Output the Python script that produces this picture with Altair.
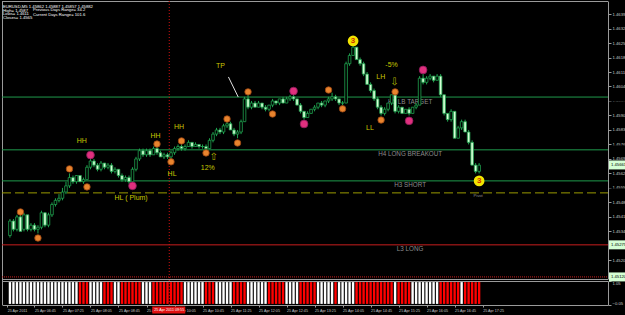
import json
import altair as alt
import pandas as pd

# ---------------- data (EURUSD M5, 25 Apr 2011) ----------------
OPEN = [1.4532,1.4539,1.4535,1.4541,1.4535,1.4542,1.4535,1.4537,1.4535,1.4536,
        1.4543,1.4537,1.4542,1.4547,1.4549,1.4550,1.4553,1.4556,1.4560,1.4558,
        1.4561,1.4558,1.4559,1.4565,1.4568,1.4566,1.4564,1.4567,1.4565,1.4566,
        1.4563,1.4564,1.4561,1.4559,1.4560,1.4558,1.4564,1.4569,1.4573,1.4571,
        1.4573,1.4571,1.4574,1.4572,1.4570,1.4571,1.4570,1.4572,1.4574,1.4575,
        1.4574,1.4575,1.4577,1.4575,1.4576,1.4575,1.4575,1.4574,1.4578,1.4581,
        1.4583,1.4582,1.4585,1.4586,1.4583,1.4581,1.4582,1.4587,1.4598,1.4594,
        1.4596,1.4594,1.4596,1.4594,1.4593,1.4595,1.4597,1.4596,1.4598,1.4596,
        1.4598,1.4599,1.4598,1.4595,1.4592,1.4589,1.4591,1.4593,1.4594,1.4596,
        1.4595,1.4597,1.4598,1.4599,1.4598,1.4596,1.4596,1.4615,1.4619,1.4623,
        1.4617,1.4615,1.4610,1.4605,1.4602,1.4598,1.4594,1.4591,1.4593,1.4596,
        1.4600,1.4592,1.4594,1.4591,1.4593,1.4591,1.4594,1.4595,1.4608,1.4606,
        1.4608,1.4609,1.4607,1.4609,1.4600,1.4591,1.4588,1.4592,1.4579,1.4584,
        1.4587,1.4582,1.4577,1.4566,1.4563]
HIGH = [1.4540,1.4540,1.4542,1.4543,1.4543,1.4542,1.4538,1.4538,1.4537,1.4544,
        1.4543,1.4543,1.4548,1.4550,1.4552,1.4555,1.4558,1.4562,1.4561,1.4561,
        1.4561,1.4560,1.4566,1.4570,1.4569,1.4567,1.4568,1.4567,1.4567,1.4567,
        1.4565,1.4564,1.4562,1.4561,1.4561,1.4565,1.4570,1.4574,1.4574,1.4574,
        1.4574,1.4575,1.4575,1.4573,1.4572,1.4572,1.4573,1.4575,1.4576,1.4576,
        1.4576,1.4578,1.4577,1.4577,1.4576,1.4576,1.4576,1.4579,1.4582,1.4584,
        1.4584,1.4586,1.4587,1.4587,1.4584,1.4583,1.4588,1.4599,1.4600,1.4597,
        1.4597,1.4597,1.4596,1.4595,1.4595,1.4598,1.4597,1.4598,1.4599,1.4599,
        1.4600,1.4600,1.4598,1.4596,1.4592,1.4592,1.4593,1.4595,1.4596,1.4597,
        1.4597,1.4599,1.4601,1.4600,1.4598,1.4597,1.4616,1.4620,1.4624,1.4623,
        1.4618,1.4616,1.4611,1.4606,1.4603,1.4599,1.4595,1.4594,1.4596,1.4600,
        1.4601,1.4595,1.4594,1.4593,1.4594,1.4594,1.4596,1.4609,1.4610,1.4609,
        1.4610,1.4609,1.4610,1.4610,1.4600,1.4591,1.4593,1.4592,1.4585,1.4588,
        1.4588,1.4583,1.4578,1.4567,1.4567]
LOW = [1.4531,1.4534,1.4534,1.4534,1.4534,1.4534,1.4534,1.4534,1.4533,1.4535,
       1.4536,1.4536,1.4541,1.4546,1.4548,1.4549,1.4552,1.4555,1.4557,1.4557,
       1.4558,1.4557,1.4559,1.4564,1.4565,1.4563,1.4563,1.4564,1.4564,1.4562,
       1.4562,1.4560,1.4558,1.4558,1.4557,1.4558,1.4563,1.4568,1.4570,1.4570,
       1.4570,1.4571,1.4571,1.4570,1.4569,1.4569,1.4569,1.4571,1.4573,1.4573,
       1.4573,1.4575,1.4574,1.4575,1.4574,1.4574,1.4573,1.4574,1.4577,1.4580,
       1.4581,1.4581,1.4584,1.4583,1.4580,1.4579,1.4581,1.4587,1.4593,1.4593,
       1.4594,1.4594,1.4593,1.4592,1.4592,1.4594,1.4595,1.4595,1.4596,1.4596,
       1.4597,1.4597,1.4595,1.4591,1.4588,1.4589,1.4591,1.4592,1.4593,1.4594,
       1.4594,1.4596,1.4597,1.4597,1.4595,1.4595,1.4596,1.4614,1.4619,1.4617,
       1.4614,1.4609,1.4605,1.4601,1.4597,1.4593,1.4590,1.4590,1.4592,1.4595,
       1.4591,1.4591,1.4591,1.4591,1.4590,1.4591,1.4593,1.4595,1.4605,1.4605,
       1.4607,1.4606,1.4607,1.4599,1.4590,1.4587,1.4587,1.4579,1.4579,1.4583,
       1.4582,1.4576,1.4566,1.4562,1.4562]
CLOSE = [1.4539,1.4535,1.4541,1.4534,1.4542,1.4535,1.4537,1.4535,1.4536,1.4543,
         1.4537,1.4542,1.4547,1.4549,1.4550,1.4553,1.4556,1.4560,1.4558,1.4561,
         1.4558,1.4559,1.4565,1.4568,1.4566,1.4564,1.4567,1.4565,1.4566,1.4563,
         1.4564,1.4561,1.4559,1.4560,1.4558,1.4564,1.4569,1.4573,1.4571,1.4573,
         1.4571,1.4574,1.4572,1.4570,1.4571,1.4570,1.4572,1.4574,1.4575,1.4574,
         1.4575,1.4577,1.4575,1.4576,1.4575,1.4575,1.4574,1.4578,1.4581,1.4583,
         1.4582,1.4585,1.4586,1.4583,1.4581,1.4582,1.4587,1.4598,1.4594,1.4596,
         1.4594,1.4596,1.4594,1.4593,1.4595,1.4597,1.4596,1.4598,1.4596,1.4598,
         1.4599,1.4598,1.4595,1.4592,1.4589,1.4591,1.4593,1.4594,1.4596,1.4595,
         1.4597,1.4598,1.4599,1.4598,1.4596,1.4596,1.4615,1.4619,1.4623,1.4617,
         1.4615,1.4610,1.4605,1.4602,1.4598,1.4594,1.4591,1.4593,1.4596,1.4600,
         1.4592,1.4594,1.4591,1.4593,1.4591,1.4594,1.4595,1.4608,1.4606,1.4608,
         1.4609,1.4607,1.4609,1.4600,1.4591,1.4588,1.4592,1.4579,1.4584,1.4587,
         1.4582,1.4577,1.4566,1.4563,1.4566]

# sub-window signal per bar: W = white (up), R = red (down)
SIGNAL = ("WWWWWWWWWWWWWWWWWWWW" "RRR" "WWWW" "RRR" "WW" "RRRRRR" "WWW" "RRRRRRRRR"
          "WWWWWW" "RRR" "WWWWW" "RRRR" "WWWWWW" "RRRRR" "WWWW" "RRRRR" "WWWWW" "R"
          "WWWWW" "RRRRRRRRRRR" "W" "RRRR" "WWWWWWWW" "RRRRRR" "W" "RRRRR")

PRICE_TICKS = [1.4639, 1.4632, 1.4625, 1.4618, 1.4611, 1.4604, 1.4597, 1.4590, 1.4583,
               1.4576, 1.4569, 1.4562, 1.4555, 1.4548, 1.4541, 1.4534, 1.4527, 1.4520, 1.4513]
TIME_TICKS = [-0.8, 7, 15, 23, 31, 39, 47, 55, 63, 71, 79, 87, 95, 103, 111, 119, 127, 135]
TIME_LABELS = ["25 Apr 2011", "25 Apr 06:45", "25 Apr 07:25", "25 Apr 08:05", "25 Apr 08:45",
               "25 Apr 09:25", "25 Apr 10:05", "25 Apr 10:45", "25 Apr 11:25", "25 Apr 12:05",
               "25 Apr 12:45", "25 Apr 13:25", "25 Apr 14:05", "25 Apr 14:45", "25 Apr 15:25",
               "25 Apr 16:05", "25 Apr 16:45", "25 Apr 17:25"]

LEVEL_NAMES = ["H5 LB TARGET", "H4 LONG BREAKOUT", "H3 SHORT", "Pivot", "L3 LONG", "L4"]
LEVEL_PRICES = [1.45989, 1.45734, 1.45584, 1.45526, 1.45275, 1.45120]
LEVEL_KIND = ["green", "green", "green", "pivot", "red", "reddot"]
LEVEL_LABEL_BAR = [114.3, 114.3, 114.3, 133.7, 114.3, None]

BOX_PRICES = [1.45989, 1.45734, 1.45661, 1.45584, 1.45526, 1.45275, 1.45120]
BOX_KIND = ["green", "green", "white", "green", "pivot", "red", "red"]

ORANGE_BAR = [3, 8, 17, 22, 42, 46, 49, 56, 62, 65, 68, 75, 91, 95, 106, 110]
ORANGE_PRICE = [1.45434, 1.45308, 1.45642, 1.45555, 1.45762, 1.45676, 1.45777, 1.45719,
                1.45883, 1.45767, 1.46014, 1.45907, 1.46023, 1.45932, 1.45878, 1.46014]
PINK_BAR = [23, 35, 81, 84, 114, 118]
PINK_PRICE = [1.45709, 1.45560, 1.46018, 1.45859, 1.45874, 1.46120]
WAVE3_BAR = [98, 134]
WAVE3_PRICE = [1.46260, 1.45584]

NOTE_TEXT = ["HH", "HH", "HH", "HL", "HL ( Plum)", "12%", "TP", "LH", "LL", "-5%"]
NOTE_BAR = [20.5, 41.6, 48.3, 46.3, 34.6, 56.5, 60.1, 105.9, 102.8, 109.0]
NOTE_PRICE = [1.45777, 1.45801, 1.45845, 1.45618, 1.45502, 1.45647, 1.46139, 1.46086, 1.45840, 1.46144]
ARROW_TEXT = ["\u21e7", "\u21e9"]
ARROW_BAR = [58.2, 109.8]
ARROW_PRICE = [1.45700, 1.46062]
TP_BAR = [62.4, 65.2]
TP_PRICE = [1.46086, 1.45989]

CROSS_BAR = 45.5
CROSS_LABEL = "25 Apr 2011 09:55"
HEADER_1 = ["EURUSD,M5  1.45862 1.45887 1.45857 1.45882", "High= 1.4587", "Lows= 1.4611", "Closes= 1.4565"]
HEADER_2 = ["Previous Days Range= 34.2", "Current Days Range= 101.6"]

# ---------------- styling ----------------
FONT = "Liberation Sans"
CANDLE = "#1fa34f"
GREEN_LINE = "#1f9a4c"
RED_LINE = "#c81e1e"
OLIVE = "#9a9a00"
NOTE = "#c8c800"
AXIS_GRAY = "#9a9a9a"
LABEL_GRAY = "#c8c8c8"

bars = pd.DataFrame({"i": list(range(len(CLOSE))), "open": OPEN, "high": HIGH,
                     "low": LOW, "close": CLOSE})
bars["dir"] = ["up" if c >= o else "down" for o, c in zip(OPEN, CLOSE)]

XS = alt.Scale(domain=[-0.843, 169.38], range=[0, 606], nice=False, zero=False)
label_expr = f"{json.dumps(TIME_LABELS)}[indexof({json.dumps(TIME_TICKS)}, datum.value)]"
X_AXIS = alt.Axis(orient="bottom", offset=-10, values=TIME_TICKS, labelExpr=label_expr,
                  labelAlign="left", labelFontSize=3.7, labelColor=LABEL_GRAY, labelFont=FONT,
                  tickSize=2, tickColor=AXIS_GRAY, domainColor=AXIS_GRAY, labelPadding=1,
                  title=None, grid=False, labelOverlap=False, labelFlush=False, labelBound=False)


def X(field="i"):
    return alt.X(f"{field}:Q", scale=XS, axis=X_AXIS)


PS = alt.Scale(domain=[1.45110, 1.46453], range=[278, 0], nice=False, zero=False)
P_AXIS = alt.Axis(orient="right", offset=-17, values=PRICE_TICKS, format=".5f",
                  labelFontSize=4.2, labelColor=LABEL_GRAY, labelFont=FONT, tickSize=3,
                  tickColor=AXIS_GRAY, domainColor=AXIS_GRAY, labelPadding=1, title=None,
                  grid=False, labelOverlap=False)


def Y(field):
    return alt.Y(f"{field}:Q", scale=PS, axis=P_AXIS)


one = pd.DataFrame({"k": [0]})

# frame lines
frames = alt.layer(
    alt.Chart(one).mark_rule(color=AXIS_GRAY, strokeWidth=1).encode(
        x=alt.value(0), x2=alt.value(606), y=alt.value(0.5)),
    alt.Chart(one).mark_rule(color=AXIS_GRAY, strokeWidth=1).encode(
        x=alt.value(0.5), y=alt.value(0), y2=alt.value(304)),
    alt.Chart(one).mark_rule(color=AXIS_GRAY, strokeWidth=1).encode(
        x=alt.value(0), x2=alt.value(606), y=alt.value(278.5)),
    alt.Chart(one).mark_rule(color=AXIS_GRAY, strokeWidth=1).encode(
        x=alt.value(0), x2=alt.value(606), y=alt.value(280.5)),
)

levels = pd.DataFrame({"name": LEVEL_NAMES, "p": LEVEL_PRICES, "kind": LEVEL_KIND,
                       "lb": LEVEL_LABEL_BAR})
lv = alt.Chart(levels)
level_lines = alt.layer(
    lv.transform_filter("datum.kind == 'green'").mark_rule(color=GREEN_LINE, strokeWidth=1).encode(
        y=Y("p"), x=alt.value(0), x2=alt.value(606)),
    lv.transform_filter("datum.kind == 'red'").mark_rule(color=RED_LINE, strokeWidth=1).encode(
        y=Y("p"), x=alt.value(0), x2=alt.value(606)),
    lv.transform_filter("datum.kind == 'reddot'").mark_rule(color=RED_LINE, strokeWidth=1, strokeDash=[1, 1]).encode(
        y=Y("p"), x=alt.value(0), x2=alt.value(606)),
    lv.transform_filter("datum.kind == 'pivot'").mark_rule(color=OLIVE, strokeWidth=1, strokeDash=[9, 4]).encode(
        y=Y("p"), x=alt.value(0), x2=alt.value(606)),
)
level_text = alt.layer(
    lv.transform_filter("datum.kind != 'pivot' && datum.kind != 'reddot'").mark_text(
        font=FONT, fontSize=6.3, color="#8c8c8c", align="center", baseline="top", dy=1.5).encode(
        x=X("lb"), y=Y("p"), text="name:N"),
    lv.transform_filter("datum.kind == 'pivot'").mark_text(
        font=FONT, fontSize=4.2, color="#8c8c8c", align="center", baseline="top", dy=1.5).encode(
        x=X("lb"), y=Y("p"), text="name:N"),
)

cand = alt.Chart(bars)
wicks = cand.mark_rule(color=CANDLE, strokeWidth=1).encode(x=X(), y=Y("low"), y2="high")
bodies = cand.mark_bar(size=2.6, stroke=CANDLE, strokeWidth=0.8).encode(
    x=X(), y=Y("open"), y2="close",
    fill=alt.Fill("dir:N", scale=alt.Scale(domain=["up", "down"], range=["#000000", "#d4ffd4"]),
                  legend=None))

orange = alt.Chart(pd.DataFrame({"b": ORANGE_BAR, "p": ORANGE_PRICE})).mark_circle(
    size=42, color="#e8842e", stroke="#9a4410", strokeWidth=0.8, opacity=1).encode(x=X("b"), y=Y("p"))
pink = alt.Chart(pd.DataFrame({"b": PINK_BAR, "p": PINK_PRICE})).mark_circle(
    size=60, color="#e0307e", stroke="#8a1a5a", strokeWidth=0.8, opacity=1).encode(x=X("b"), y=Y("p"))
w3 = pd.DataFrame({"b": WAVE3_BAR, "p": WAVE3_PRICE, "t": ["3", "3"]})
wave_c = alt.Chart(w3).mark_circle(size=115, color="#f2e400", opacity=1).encode(x=X("b"), y=Y("p"))
wave_t = alt.Chart(w3).mark_text(font=FONT, fontSize=8, fontWeight="bold", color="#d03000",
                                 baseline="middle").encode(x=X("b"), y=Y("p"), text="t:N")

notes = alt.Chart(pd.DataFrame({"t": NOTE_TEXT, "b": NOTE_BAR, "p": NOTE_PRICE})).mark_text(
    font=FONT, fontSize=7, color=NOTE, baseline="middle").encode(x=X("b"), y=Y("p"), text="t:N")
arrows = alt.Chart(pd.DataFrame({"t": ARROW_TEXT, "b": ARROW_BAR, "p": ARROW_PRICE})).mark_text(
    font="DejaVu Sans", fontSize=10, color="#b4b400", baseline="middle").encode(
    x=X("b"), y=Y("p"), text="t:N")
tp = alt.Chart(pd.DataFrame({"b": [TP_BAR[0]], "b2": [TP_BAR[1]], "p": [TP_PRICE[0]],
                             "p2": [TP_PRICE[1]]})).mark_rule(color="#e0e0e0", strokeWidth=1).encode(
    x=X("b"), x2="b2", y=Y("p"), y2="p2")

box_df = pd.DataFrame({"p": BOX_PRICES, "kind": BOX_KIND})
box_df["label"] = [f"{v:.5f}" for v in BOX_PRICES]
boxes = alt.Chart(box_df).mark_rect(yOffset=-4.5, y2Offset=4.5).encode(
    y=Y("p"), y2="p", x=alt.value(607), x2=alt.value(624),
    fill=alt.Fill("kind:N", scale=alt.Scale(domain=["green", "white", "pivot", "red"],
                                            range=["#22c85a", "#f4f4f4", "#e6e600", "#e01010"]),
                  legend=None))
box_text = alt.Chart(box_df).mark_text(font=FONT, fontSize=4.2, color="#000000", align="left",
                                       baseline="middle").encode(
    y=Y("p"), x=alt.value(609), text="label:N")

hdr1 = pd.DataFrame({"t": HEADER_1, "row": [0, 1, 2, 3]})
hdr2 = pd.DataFrame({"t": HEADER_2, "row": [1, 2]})
header = alt.layer(
    alt.Chart(hdr1).mark_text(font=FONT, fontSize=4.2, color="#ffffff", align="left",
                              baseline="middle").encode(
        x=alt.value(1), y=alt.Y("row:O", scale=alt.Scale(range=[3.7, 19.3]), axis=None), text="t:N"),
)
header2 = alt.Chart(hdr2).mark_text(font=FONT, fontSize=4.2, color="#ffffff", align="left",
                                    baseline="middle").encode(
    x=alt.value(31), y=alt.Y("row:Q", scale=alt.Scale(domain=[0, 3], range=[3.7, 19.3]), axis=None),
    text="t:N")

cross = pd.DataFrame({"b": [CROSS_BAR], "t": [CROSS_LABEL]})
cross_line = alt.Chart(cross).mark_rule(color="#d01010", strokeWidth=1, strokeDash=[1, 2]).encode(
    x=X("b"), y=alt.value(0), y2=alt.value(304))

price_group = alt.layer(frames, level_lines, level_text, cross_line, wicks, bodies, tp, orange,
                        pink, wave_c, wave_t, notes, arrows, boxes, box_text)
hdr_group = alt.layer(header)
hdr_group2 = alt.layer(header2)

# sub window
ind = pd.DataFrame({"i": list(range(len(SIGNAL))), "sig": list(SIGNAL)})
IS = alt.Scale(domain=[-0.05, 1.05], range=[304, 280], nice=False, zero=False)
I_AXIS = alt.Axis(orient="right", offset=-17, values=[1.05, -0.05], format=".2f",
                  labelFontSize=4.2, labelColor=LABEL_GRAY, labelFont=FONT, tickSize=3,
                  tickColor=AXIS_GRAY, domainColor=AXIS_GRAY, labelPadding=1, title=None,
                  grid=False, labelFlush=True)
ind_bars = alt.Chart(ind).mark_bar(size=2.4).encode(
    x=X(), y=alt.Y(datum=1, scale=IS, axis=I_AXIS), y2=alt.Y2(datum=0),
    color=alt.Color("sig:N", scale=alt.Scale(domain=["W", "R"], range=["#ffffff", "#ff0000"]),
                    legend=None))
cross_box = alt.Chart(cross).mark_rect(color="#e01010", xOffset=-17, x2Offset=16).encode(
    x=X("b"), x2="b", y=alt.value(305.5), y2=alt.value(312.5))
cross_text = alt.Chart(cross).mark_text(font=FONT, fontSize=3.7, color="#ffffff",
                                        baseline="middle").encode(
    x=X("b"), y=alt.value(309), text="t:N")
ind_group = alt.layer(ind_bars, cross_box, cross_text)

chart = alt.layer(price_group, ind_group, hdr_group, hdr_group2).resolve_scale(
    y="independent").properties(
    width=623, height=314, background="#000000",
    padding={"left": 2, "top": 1, "right": 0, "bottom": 0},
    autosize=alt.AutoSizeParams(type="none"),
).configure_view(stroke=None)

chart.save("out.html", embed_options={"renderer": "svg", "actions": False})
